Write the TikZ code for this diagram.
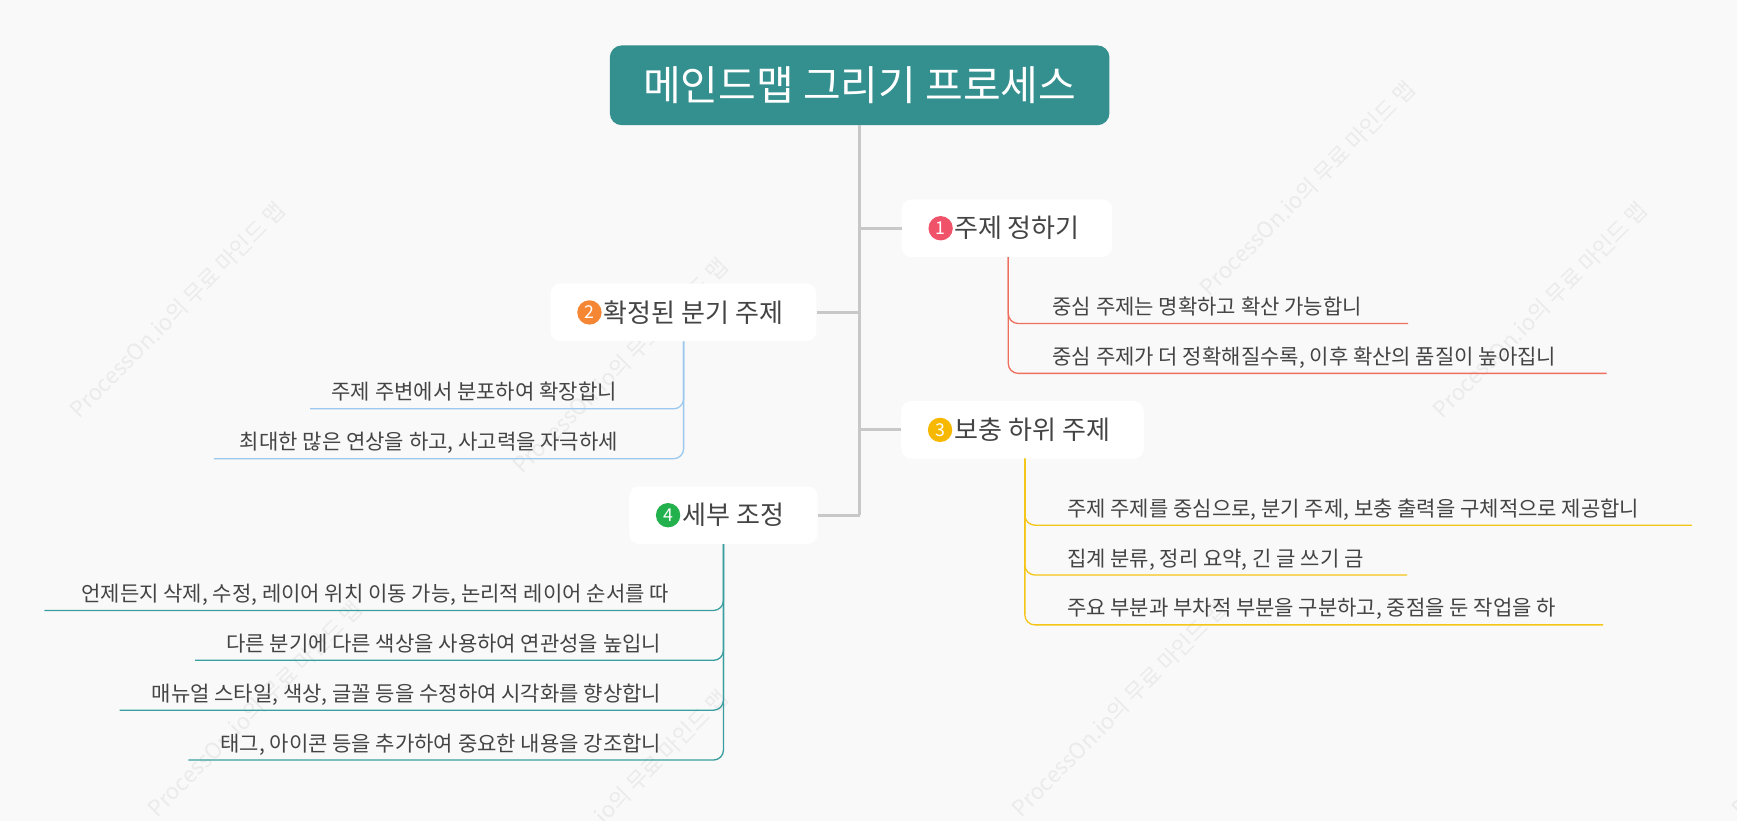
\documentclass[tikz,border=0pt]{standalone}
\usepackage{fontspec}
\setmainfont{Noto Sans CJK KR}
\usetikzlibrary{positioning}
\definecolor{bg}{HTML}{F9F9F9}
\definecolor{rootc}{HTML}{348F8F}
\definecolor{trunk}{HTML}{C8C8C8}
\definecolor{txt}{HTML}{444444}
\definecolor{cA}{HTML}{F0526A}
\definecolor{cB}{HTML}{F58634}
\definecolor{cC}{HTML}{F6B800}
\definecolor{cD}{HTML}{23B14D}
\definecolor{lA}{HTML}{EE6F5E}
\definecolor{lB}{HTML}{9CC8EF}
\definecolor{lC}{HTML}{F5C518}
\definecolor{lD}{HTML}{3A9EA0}
\tikzstyle{Root} = [rectangle,fill=rootc,text=white,rounded corners=12pt,minimum width=451pt,minimum height=72pt,font=\fontsize{37}{40}\selectfont]
\tikzstyle{Br} = [rectangle,fill=white,rounded corners=10pt,minimum height=52pt,text=txt,font=\fontsize{23.5}{26}\selectfont,inner xsep=20pt]
\tikzstyle{Bd} = [circle,text=white,inner sep=1pt,minimum size=22pt,font=\fontsize{16}{18}\selectfont]
\tikzstyle{Ch} = [inner sep=0pt,text=txt,font=\fontsize{19}{21}\selectfont]
\tikzstyle{Wm} = [rotate=45,text=black!8,font=\fontsize{20}{24}\selectfont]
\begin{document}
\begin{tikzpicture}[x=1pt,y=-1pt,scale=1.1077,every node/.style={transform shape}]
	\fill[bg] (0,0) rectangle (1568,741);
	\useasboundingbox (0,0) rectangle (1568,741);
	% watermarks
	\foreach \wx/\wy in {160/280,560/330,1180/170,1390/280,230/640,1010/640,1660/640,560/720}
		\node [Wm] at (\wx,\wy) {ProcessOn.io의 무료 마인드 맵};
	%%%%%%%%%%%%%%%
	\node [Root] (root) at (776,77) {메인드맵 그리기 프로세스};
	\coordinate (t0) at (776,465);
	\draw [trunk,line width=3pt] (root.south) -- (t0);
	%%%%%%%%%%%%%%%
	\node [Br,minimum width=190pt] (b1) at (909,206) {\hspace{18pt}주제 정하기};
	\node [Br,minimum width=240pt] (b2) at (617,282) {\hspace{18pt}확정된 분기 주제};
	\node [Br,minimum width=219pt] (b3) at (923,388) {\hspace{18pt}보충 하위 주제};
	\node [Br,minimum width=170pt] (b4) at (653,465) {\hspace{18pt}세부 조정};
	\node [Bd,fill=cA,right=3pt of b1.west,xshift=21pt] (n1) {1};
	\node [Bd,fill=cB,right=3pt of b2.west,xshift=21pt] (n2) {2};
	\node [Bd,fill=cC,right=3pt of b3.west,xshift=21pt] (n3) {3};
	\node [Bd,fill=cD,right=3pt of b4.west,xshift=21pt] (n4) {4};
	\draw [trunk,line width=3pt] (b1.west) -- (b1.west -| root);
	\draw [trunk,line width=3pt] (b2.east) -- (b2.east -| root);
	\draw [trunk,line width=3pt] (b3.west) -- (b3.west -| root);
	\draw [trunk,line width=3pt] (b4.east) -- (b4.east -| root);
	%%%%%%%%%%%%%%% branch 1
	\coordinate (v1) at (910,232);
	\node [Ch,anchor=base west] (a1) at (950,284) {중심 주제는 명확하고 확산 가능합니};
	\node [Ch,anchor=base west] (a2) at (950,329) {중심 주제가 더 정확해질수록, 이후 확산의 품질이 높아집니};
	\coordinate (ae1) at (1271,292);
	\coordinate (ae2) at (1450,337);
	\draw [lA,line width=1.3pt,rounded corners=10pt] (v1) |- (ae1);
	\draw [lA,line width=1.3pt,rounded corners=10pt] (v1) |- (ae2);
	%%%%%%%%%%%%%%% branch 2
	\node [Ch,anchor=base east] (c1) at (557,361) {주제 주변에서 분포하여 확장합니};
	\node [Ch,anchor=base east] (c2) at (558,406) {최대한 많은 연상을 하고, 사고력을 자극하세};
	\coordinate (ce1) at (280,369);
	\coordinate (ce2) at (193,414);
	\draw [lB,line width=1.3pt,rounded corners=10pt] (b2.south) |- (ce1);
	\draw [lB,line width=1.3pt,rounded corners=10pt] (b2.south) |- (ce2);
	%%%%%%%%%%%%%%% branch 3
	\coordinate (v3) at (925,414);
	\node [Ch,anchor=base west] (d1) at (963,466) {주제 주제를 중심으로, 분기 주제, 보충 출력을 구체적으로 제공합니};
	\node [Ch,anchor=base west] (d2) at (963,511) {집계 분류, 정리 요약, 긴 글 쓰기 금};
	\node [Ch,anchor=base west] (d3) at (963,556) {주요 부분과 부차적 부분을 구분하고, 중점을 둔 작업을 하};
	\coordinate (de1) at (1527,474);
	\coordinate (de2) at (1270,519);
	\coordinate (de3) at (1447,564);
	\foreach \e in {de1,de2,de3}
		\draw [lC,line width=1.3pt,rounded corners=10pt] (v3) |- (\e);
	%%%%%%%%%%%%%%% branch 4
	\node [Ch,anchor=base east] (e1) at (604,543) {언제든지 삭제, 수정, 레이어 위치 이동 가능, 논리적 레이어 순서를 따};
	\node [Ch,anchor=base east] (e2) at (597,588) {다른 분기에 다른 색상을 사용하여 연관성을 높입니};
	\node [Ch,anchor=base east] (e3) at (597,633) {매뉴얼 스타일, 색상, 글꼴 등을 수정하여 시각화를 향상합니};
	\node [Ch,anchor=base east] (e4) at (597,678) {태그, 아이콘 등을 추가하여 중요한 내용을 강조합니};
	\coordinate (ee1) at (40,551);
	\coordinate (ee2) at (176,596);
	\coordinate (ee3) at (108,641);
	\coordinate (ee4) at (170,686);
	\foreach \e in {ee1,ee2,ee3,ee4}
		\draw [lD,line width=1.3pt,rounded corners=10pt] (b4.south) |- (\e);
\end{tikzpicture}
\end{document}
